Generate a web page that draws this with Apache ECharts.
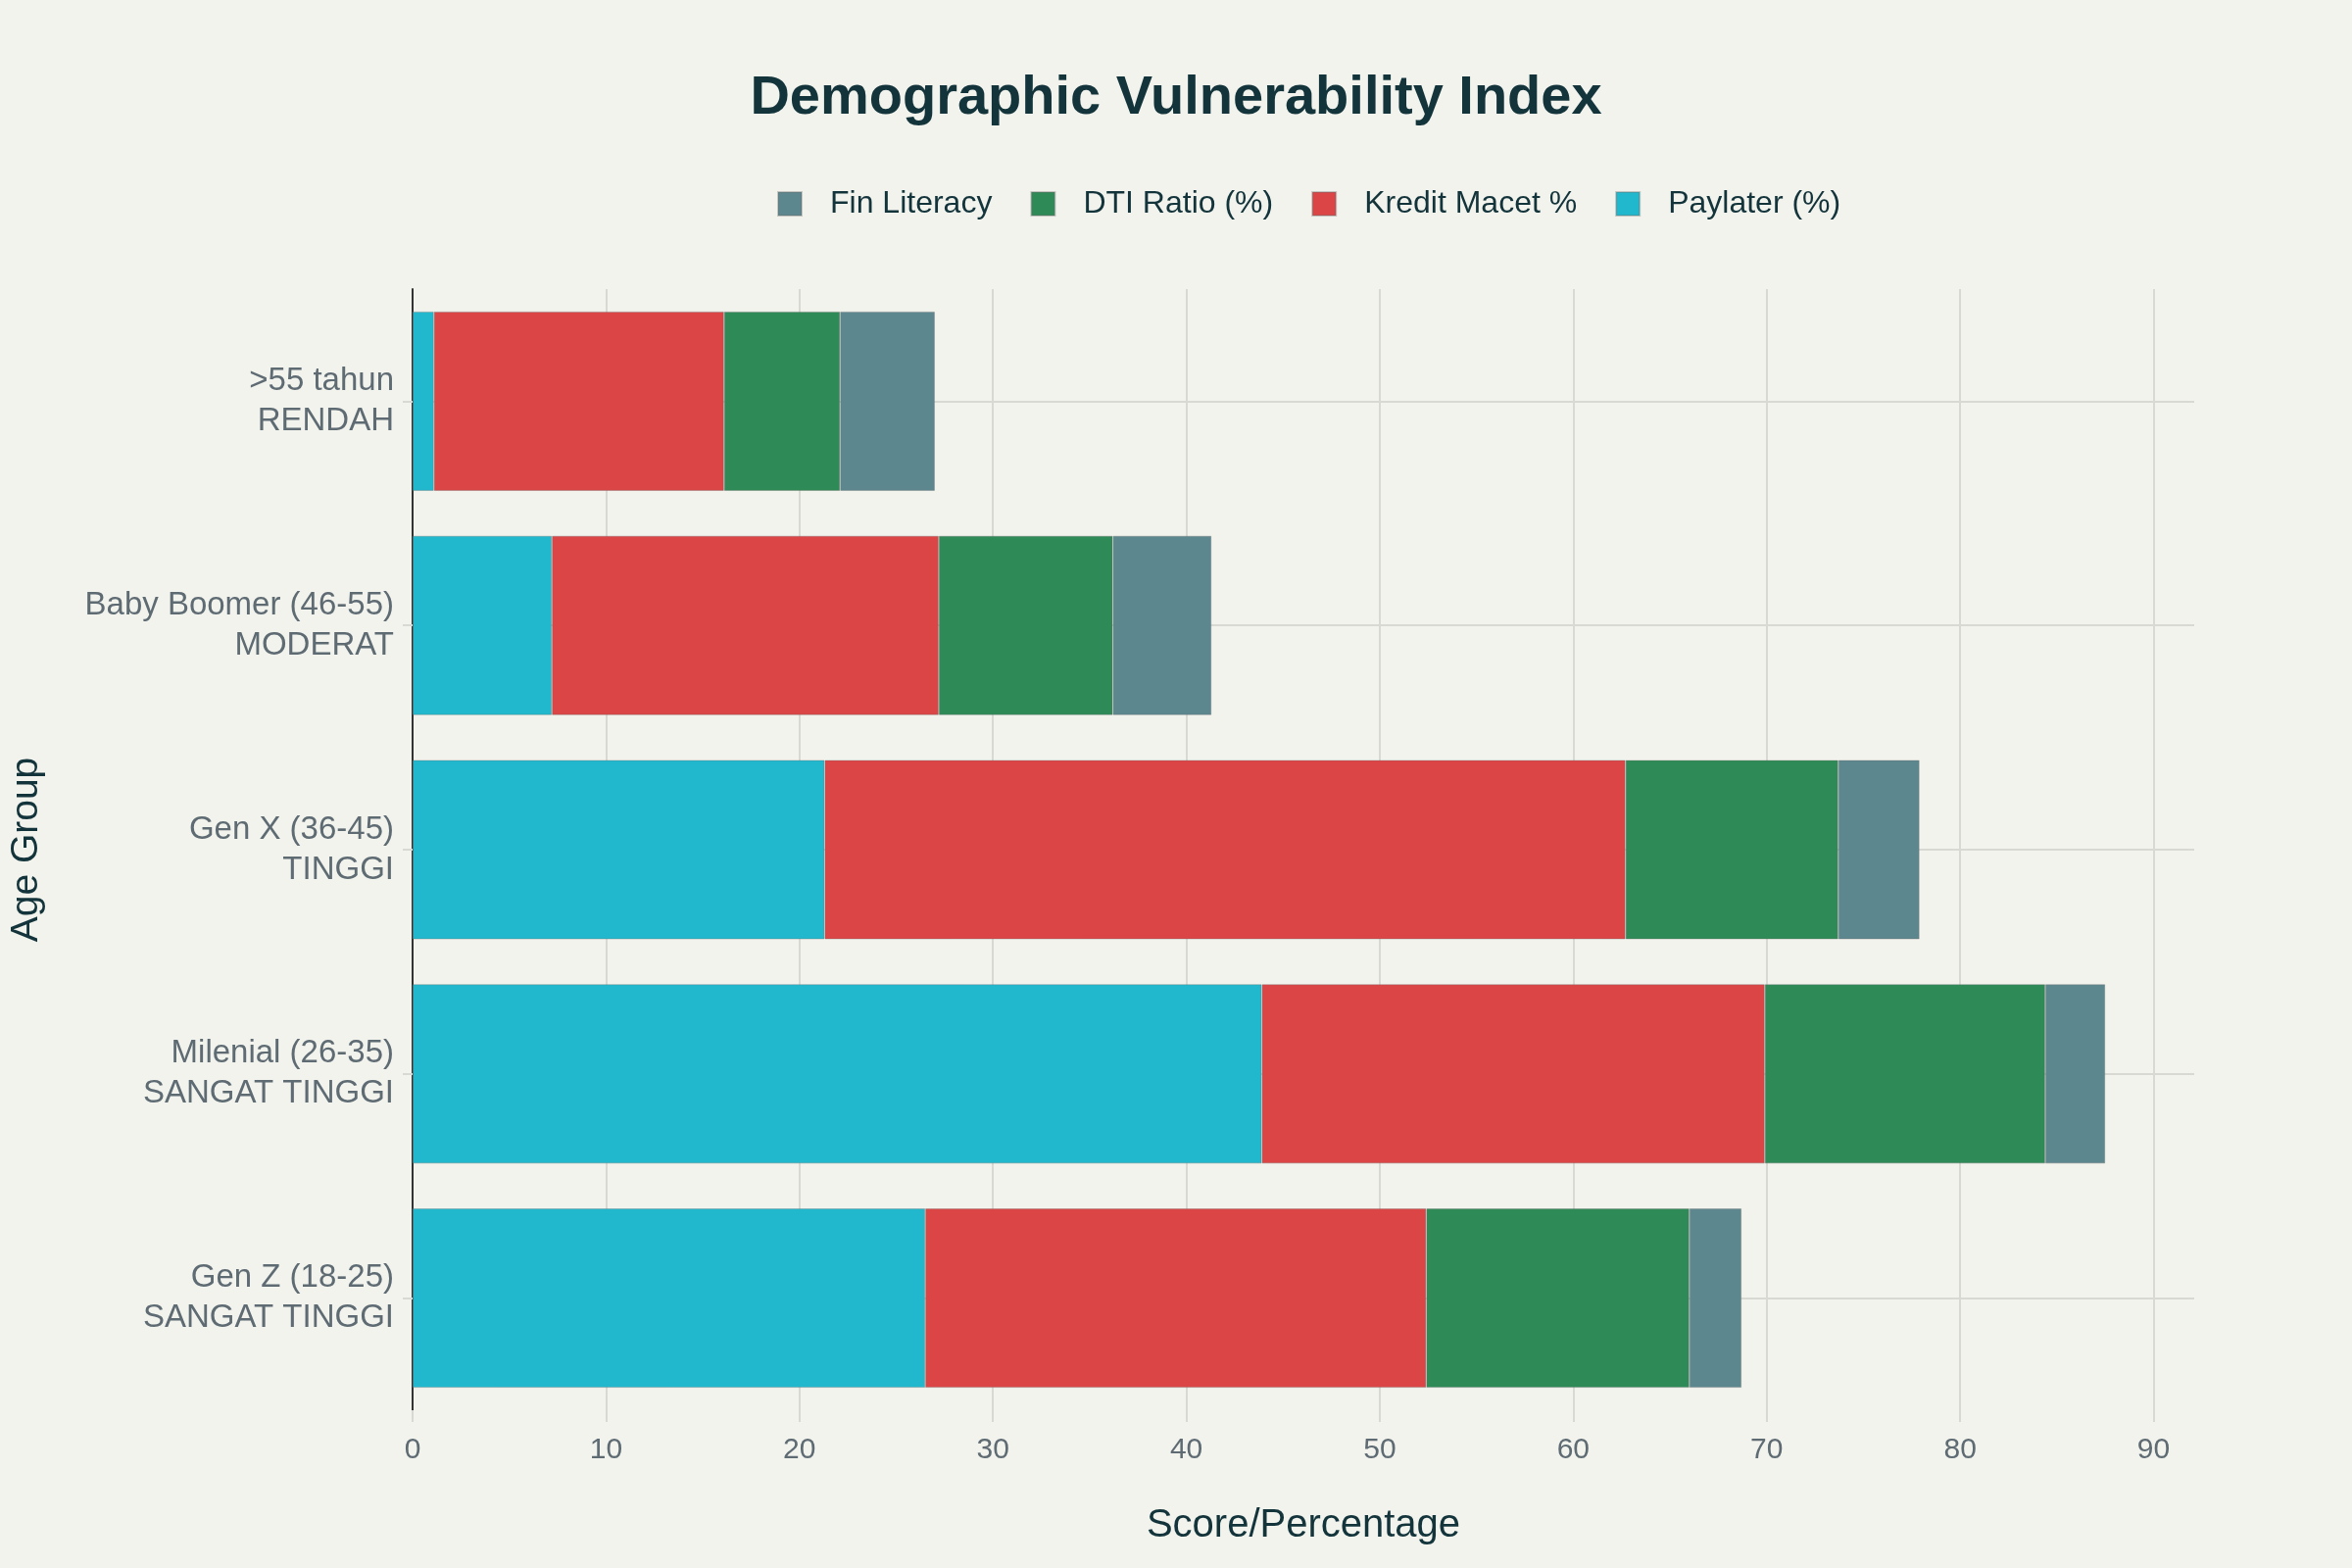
<!DOCTYPE html>
<html>
<head>
<meta charset="utf-8">
<script src="https://cdn.jsdelivr.net/npm/echarts@6/dist/echarts.min.js"></script>
<style>
html,body{margin:0;padding:0;background:#F3F3EE;}
#chart{width:2400px;height:1600px;}
</style>
</head>
<body>
<div id="chart"></div>
<script>
const categories = [
  'Gen Z (18-25)\nSANGAT TINGGI',
  'Milenial (26-35)\nSANGAT TINGGI',
  'Gen X (36-45)\nTINGGI',
  'Baby Boomer (46-55)\nMODERAT',
  '>55 tahun\nRENDAH'
];
const paylater = [26.5, 43.9, 21.3, 7.2, 1.1];
const kreditMacet = [25.9, 26.0, 41.4, 20.0, 15.0];
const dtiRatio = [13.6, 14.5, 11.0, 9.0, 6.0];
const finLiteracy = [2.7, 3.1, 4.2, 5.1, 4.9];
const xTicks = [0, 10, 20, 30, 40, 50, 60, 70, 80, 90];
const legendOrder = ['Fin Literacy', 'DTI Ratio (%)', 'Kredit Macet %', 'Paylater (%)'];

const FONT = 'Liberation Sans, Arial, sans-serif';
const dark = '#13343B';
const grey = '#5E6B73';
const gridColor = '#D9D9D3';
// one colour per vertical split line (0..90 and the axis end); the end line is hidden
const vLineColors = xTicks.map(function () { return gridColor; }).concat(['rgba(0,0,0,0)']);

const chart = echarts.init(document.getElementById('chart'), null, {renderer: 'canvas'});

function barSeries(name, data, color) {
  return {
    name: name,
    type: 'bar',
    stack: 'total',
    data: data,
    barCategoryGap: '20%',
    itemStyle: {color: color, borderColor: 'rgba(110,110,110,0.35)', borderWidth: 1},
    emphasis: {disabled: true}
  };
}

chart.setOption({
  backgroundColor: '#F3F3EE',
  animation: false,
  title: {
    text: 'Demographic Vulnerability Index',
    left: 'center',
    top: 68,
    textStyle: {fontFamily: FONT, fontSize: 56, fontWeight: 'bold', color: dark}
  },
  legend: {
    data: legendOrder,
    left: 788,
    top: 187,
    itemWidth: 24,
    itemHeight: 24,
    itemGap: 39,
    icon: 'rect',
    textStyle: {fontFamily: FONT, fontSize: 32, color: dark, padding: [0, 0, 0, 24]}
  },
  grid: {left: 421, right: 161, top: 295, bottom: 161, containLabel: false},
  xAxis: {
    type: 'value',
    min: 0,
    max: 92.1,
    interval: 10,
    name: 'Score/Percentage',
    nameLocation: 'middle',
    nameGap: 98,
    nameTextStyle: {fontFamily: FONT, fontSize: 40, color: dark},
    axisLine: {show: false},
    axisTick: {show: true, length: 12, customValues: xTicks, lineStyle: {color: gridColor, width: 2}},
    axisLabel: {fontFamily: FONT, fontSize: 30, color: grey, margin: 26,
      formatter: function (v) { return (v % 10 === 0) ? String(v) : ''; }},
    splitLine: {show: true, lineStyle: {color: vLineColors, width: 2}}
  },
  yAxis: {
    type: 'category',
    data: categories,
    name: 'Age Group',
    nameLocation: 'middle',
    nameGap: 374,
    nameTextStyle: {fontFamily: FONT, fontSize: 39, color: dark},
    axisLine: {show: true, lineStyle: {color: '#333333', width: 2}},
    axisTick: {show: true, alignWithLabel: true, length: 10, lineStyle: {color: gridColor, width: 2}},
    axisLabel: {fontFamily: FONT, fontSize: 33, color: grey, margin: 19, lineHeight: 41, align: 'right'},
    splitLine: {show: true, alignWithLabel: true, lineStyle: {color: gridColor, width: 2}}
  },
  series: [
    barSeries('Paylater (%)', paylater, '#21B8CD'),
    barSeries('Kredit Macet %', kreditMacet, '#DB4545'),
    barSeries('DTI Ratio (%)', dtiRatio, '#2E8B57'),
    barSeries('Fin Literacy', finLiteracy, '#5D878F')
  ]
});
</script>
</body>
</html>
